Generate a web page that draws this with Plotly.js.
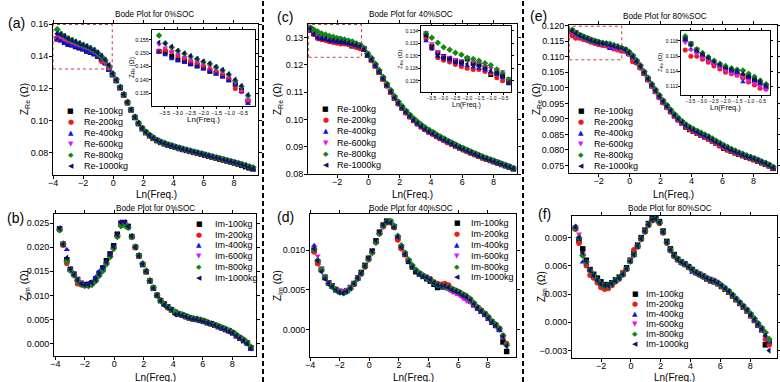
<!DOCTYPE html>
<html><head><meta charset="utf-8">
<script src="https://cdn.plot.ly/plotly-3.0.1.min.js"></script>
<style>html,body{margin:0;padding:0;background:#fff}#chart{width:780px;height:382px}</style>
</head><body><div id="chart"></div>
<script>
// ln of measurement frequency (shared by every series)
const lnFreq = [
-3.72,-3.48,-3.23,-2.99,-2.74,-2.50,-2.25,-2.01,-1.76,-1.52,
-1.27,-1.03,-0.78,-0.54,-0.29,-0.05,0.20,0.45,0.69,0.94,
1.18,1.43,1.67,1.92,2.16,2.41,2.65,2.90,3.14,3.39,
3.63,3.88,4.12,4.37,4.61,4.86,5.10,5.35,5.59,5.84,
6.08,6.33,6.57,6.82,7.06,7.31,7.55,7.80,8.04,8.29,
8.53,8.78,9.02,9.27];
const loads = ['100kg','200kg','400kg','600kg','800kg','1000kg'];
const socTitles = ['Bode Plot for 0%SOC','Bode Plot for 40%SOC','Bode Plot for 80%SOC'];

// (a) Z_Re, 0% SOC
const re0_100kg = [
0.1507,0.1503,0.1488,0.1475,0.1470,0.1460,0.1452,0.1445,0.1432,0.1425,
0.1415,0.1400,0.1385,0.1360,0.1320,0.1285,0.1248,0.1203,0.1158,0.1110,
0.1065,0.1018,0.0980,0.0948,0.0924,0.0904,0.0888,0.0874,0.0863,0.0854,
0.0846,0.0839,0.0832,0.0825,0.0819,0.0813,0.0807,0.0801,0.0795,0.0789,
0.0783,0.0777,0.0771,0.0765,0.0759,0.0753,0.0747,0.0741,0.0735,0.0728,
0.0720,0.0712,0.0704,0.0698];
const re0_200kg = [
0.1507,0.1512,0.1505,0.1490,0.1480,0.1470,0.1462,0.1452,0.1440,0.1430,
0.1420,0.1405,0.1368,0.1355,0.1320,0.1283,0.1246,0.1202,0.1157,0.1110,
0.1064,0.1019,0.0981,0.0949,0.0925,0.0905,0.0889,0.0875,0.0864,0.0855,
0.0847,0.0840,0.0833,0.0826,0.0820,0.0814,0.0808,0.0802,0.0796,0.0790,
0.0784,0.0778,0.0772,0.0766,0.0760,0.0754,0.0748,0.0742,0.0736,0.0730,
0.0724,0.0718,0.0711,0.0703];
const re0_400kg = [
0.1505,0.1493,0.1478,0.1473,0.1465,0.1458,0.1450,0.1440,0.1432,0.1422,
0.1410,0.1398,0.1380,0.1355,0.1310,0.1282,0.1245,0.1201,0.1157,0.1110,
0.1064,0.1019,0.0981,0.0949,0.0925,0.0905,0.0888,0.0874,0.0863,0.0854,
0.0846,0.0838,0.0831,0.0825,0.0819,0.0813,0.0807,0.0801,0.0795,0.0789,
0.0783,0.0777,0.0771,0.0765,0.0759,0.0753,0.0747,0.0741,0.0735,0.0729,
0.0723,0.0717,0.0710,0.0700];
const re0_600kg = [
0.1533,0.1520,0.1505,0.1495,0.1485,0.1475,0.1468,0.1460,0.1452,0.1440,
0.1428,0.1412,0.1390,0.1358,0.1325,0.1286,0.1249,0.1204,0.1159,0.1111,
0.1065,0.1020,0.0982,0.0950,0.0926,0.0906,0.0890,0.0876,0.0865,0.0856,
0.0848,0.0841,0.0834,0.0827,0.0821,0.0815,0.0809,0.0803,0.0797,0.0791,
0.0785,0.0779,0.0773,0.0767,0.0761,0.0755,0.0749,0.0743,0.0737,0.0731,
0.0725,0.0719,0.0713,0.0705];
const re0_800kg = [
0.1566,0.1537,0.1522,0.1508,0.1498,0.1488,0.1478,0.1468,0.1460,0.1448,
0.1436,0.1420,0.1398,0.1375,0.1340,0.1292,0.1253,0.1208,0.1162,0.1114,
0.1068,0.1022,0.0984,0.0952,0.0928,0.0908,0.0892,0.0878,0.0867,0.0858,
0.0850,0.0843,0.0836,0.0829,0.0823,0.0817,0.0811,0.0805,0.0799,0.0793,
0.0787,0.0781,0.0775,0.0769,0.0763,0.0757,0.0751,0.0745,0.0739,0.0733,
0.0727,0.0720,0.0713,0.0706];
const re0_1000kg = [
0.1541,0.1536,0.1525,0.1510,0.1500,0.1490,0.1480,0.1470,0.1462,0.1450,
0.1438,0.1422,0.1402,0.1378,0.1345,0.1290,0.1252,0.1206,0.1161,0.1113,
0.1067,0.1021,0.0983,0.0951,0.0927,0.0907,0.0891,0.0877,0.0866,0.0857,
0.0849,0.0842,0.0835,0.0828,0.0822,0.0816,0.0810,0.0804,0.0798,0.0792,
0.0786,0.0780,0.0774,0.0768,0.0762,0.0756,0.0750,0.0744,0.0738,0.0732,
0.0726,0.0719,0.0710,0.0700];

// (b) Z_Im, 0% SOC
const im0_100kg = [
0.0238,0.0206,0.0174,0.0154,0.0144,0.0133,0.0125,0.0122,0.0123,0.0126,
0.0134,0.0146,0.0157,0.0172,0.0186,0.0203,0.0227,0.0250,0.0251,0.0243,
0.0222,0.0200,0.0182,0.0164,0.0149,0.0130,0.0115,0.0100,0.0089,0.0082,
0.0076,0.0070,0.0065,0.0061,0.0059,0.0056,0.0053,0.0051,0.0050,0.0048,
0.0046,0.0043,0.0041,0.0038,0.0035,0.0032,0.0029,0.0026,0.0022,0.0016,
0.0011,0.0006,0.0001,-0.0009];
const im0_200kg = [
0.0236,0.0204,0.0166,0.0152,0.0142,0.0124,0.0122,0.0121,0.0121,0.0124,
0.0131,0.0142,0.0153,0.0167,0.0182,0.0199,0.0222,0.0246,0.0249,0.0241,
0.0221,0.0199,0.0181,0.0165,0.0150,0.0131,0.0116,0.0101,0.0090,0.0081,
0.0074,0.0069,0.0064,0.0062,0.0058,0.0055,0.0053,0.0052,0.0050,0.0049,
0.0047,0.0044,0.0040,0.0038,0.0036,0.0032,0.0029,0.0025,0.0022,0.0016,
0.0012,0.0007,0.0002,-0.0008];
const im0_400kg = [
0.0240,0.0208,0.0195,0.0155,0.0145,0.0131,0.0124,0.0123,0.0124,0.0128,
0.0138,0.0150,0.0158,0.0170,0.0185,0.0202,0.0226,0.0253,0.0252,0.0244,
0.0222,0.0201,0.0183,0.0166,0.0150,0.0130,0.0115,0.0100,0.0088,0.0080,
0.0075,0.0071,0.0066,0.0060,0.0058,0.0055,0.0053,0.0050,0.0049,0.0048,
0.0046,0.0042,0.0041,0.0039,0.0035,0.0031,0.0028,0.0025,0.0021,0.0015,
0.0011,0.0006,0.0001,-0.0012];
const im0_600kg = [
0.0237,0.0209,0.0170,0.0153,0.0144,0.0134,0.0127,0.0120,0.0118,0.0120,
0.0128,0.0140,0.0152,0.0166,0.0181,0.0198,0.0224,0.0247,0.0248,0.0240,
0.0221,0.0200,0.0182,0.0165,0.0150,0.0129,0.0114,0.0099,0.0088,0.0081,
0.0073,0.0069,0.0064,0.0061,0.0059,0.0055,0.0052,0.0051,0.0049,0.0047,
0.0044,0.0042,0.0040,0.0037,0.0034,0.0031,0.0028,0.0024,0.0021,0.0016,
0.0011,0.0006,0.0001,-0.0008];
const im0_800kg = [
0.0236,0.0207,0.0171,0.0152,0.0142,0.0131,0.0123,0.0120,0.0120,0.0123,
0.0130,0.0141,0.0151,0.0165,0.0180,0.0197,0.0222,0.0244,0.0246,0.0241,
0.0222,0.0201,0.0183,0.0166,0.0151,0.0131,0.0116,0.0100,0.0089,0.0081,
0.0075,0.0070,0.0066,0.0062,0.0060,0.0057,0.0054,0.0052,0.0051,0.0049,
0.0047,0.0044,0.0041,0.0039,0.0036,0.0033,0.0030,0.0027,0.0023,0.0018,
0.0013,0.0008,0.0002,-0.0007];
const im0_1000kg = [
0.0239,0.0206,0.0178,0.0154,0.0143,0.0132,0.0124,0.0122,0.0122,0.0126,
0.0133,0.0144,0.0156,0.0169,0.0184,0.0201,0.0226,0.0251,0.0252,0.0243,
0.0223,0.0200,0.0182,0.0165,0.0150,0.0130,0.0115,0.0100,0.0089,0.0080,
0.0075,0.0070,0.0060,0.0061,0.0058,0.0056,0.0053,0.0051,0.0050,0.0048,
0.0046,0.0043,0.0041,0.0038,0.0035,0.0032,0.0029,0.0025,0.0022,0.0016,
0.0011,0.0006,0.0000,-0.0010];

// (c) Z_Re, 40% SOC
const re40_100kg = [
0.1333,0.1315,0.1305,0.1299,0.1296,0.1292,0.1290,0.1295,0.1288,0.1286,
0.1281,0.1270,0.1272,0.1268,0.1258,0.1236,0.1219,0.1197,0.1174,0.1149,
0.1125,0.1101,0.1079,0.1059,0.1042,0.1026,0.1011,0.0997,0.0985,0.0974,
0.0964,0.0955,0.0950,0.0939,0.0931,0.0924,0.0917,0.0910,0.0903,0.0896,
0.0890,0.0884,0.0878,0.0872,0.0866,0.0860,0.0855,0.0850,0.0845,0.0840,
0.0835,0.0830,0.0825,0.0819];
const re40_200kg = [
0.1327,0.1312,0.1297,0.1293,0.1290,0.1286,0.1283,0.1280,0.1278,0.1278,
0.1275,0.1272,0.1265,0.1260,0.1257,0.1242,0.1216,0.1195,0.1172,0.1147,
0.1123,0.1099,0.1077,0.1057,0.1040,0.1024,0.1009,0.0995,0.0983,0.0972,
0.0962,0.0953,0.0945,0.0937,0.0929,0.0922,0.0915,0.0908,0.0901,0.0894,
0.0888,0.0882,0.0876,0.0870,0.0864,0.0859,0.0854,0.0849,0.0845,0.0840,
0.0835,0.0831,0.0826,0.0821];
const re40_400kg = [
0.1324,0.1312,0.1299,0.1295,0.1293,0.1289,0.1286,0.1284,0.1282,0.1280,
0.1277,0.1274,0.1270,0.1265,0.1255,0.1235,0.1218,0.1196,0.1173,0.1148,
0.1124,0.1100,0.1078,0.1058,0.1041,0.1025,0.1010,0.0996,0.0984,0.0973,
0.0963,0.0954,0.0946,0.0938,0.0930,0.0923,0.0916,0.0909,0.0902,0.0895,
0.0889,0.0883,0.0877,0.0871,0.0865,0.0860,0.0855,0.0850,0.0845,0.0839,
0.0834,0.0829,0.0824,0.0818];
const re40_600kg = [
0.1338,0.1320,0.1307,0.1300,0.1298,0.1294,0.1292,0.1297,0.1290,0.1288,
0.1283,0.1280,0.1279,0.1275,0.1264,0.1239,0.1222,0.1199,0.1176,0.1151,
0.1127,0.1103,0.1081,0.1061,0.1044,0.1028,0.1013,0.0999,0.0987,0.0976,
0.0966,0.0957,0.0949,0.0941,0.0933,0.0926,0.0919,0.0912,0.0905,0.0898,
0.0892,0.0886,0.0880,0.0874,0.0868,0.0862,0.0857,0.0852,0.0847,0.0842,
0.0837,0.0832,0.0827,0.0823];
const re40_800kg = [
0.1336,0.1329,0.1321,0.1314,0.1310,0.1305,0.1302,0.1297,0.1295,0.1292,
0.1288,0.1285,0.1278,0.1272,0.1262,0.1241,0.1225,0.1203,0.1180,0.1155,
0.1131,0.1107,0.1085,0.1065,0.1048,0.1032,0.1017,0.1003,0.0991,0.0980,
0.0970,0.0961,0.0953,0.0944,0.0936,0.0929,0.0921,0.0914,0.0907,0.0900,
0.0894,0.0888,0.0881,0.0875,0.0869,0.0863,0.0858,0.0853,0.0848,0.0843,
0.0837,0.0832,0.0827,0.0821];
const re40_1000kg = [
0.1333,0.1313,0.1300,0.1297,0.1296,0.1290,0.1290,0.1287,0.1285,0.1284,
0.1280,0.1276,0.1273,0.1268,0.1257,0.1237,0.1220,0.1198,0.1175,0.1150,
0.1126,0.1102,0.1080,0.1060,0.1043,0.1027,0.1012,0.0998,0.0986,0.0975,
0.0965,0.0956,0.0948,0.0940,0.0932,0.0925,0.0918,0.0911,0.0904,0.0897,
0.0891,0.0885,0.0879,0.0873,0.0867,0.0861,0.0856,0.0851,0.0846,0.0841,
0.0836,0.0831,0.0826,0.0820];

// (d) Z_Im, 40% SOC
const im40_100kg = [
0.0100,0.0085,0.0076,0.0066,0.0059,0.0055,0.0050,0.0048,0.0047,0.0049,
0.0053,0.0058,0.0065,0.0072,0.0081,0.0090,0.0099,0.0112,0.0123,0.0132,
0.0137,0.0136,0.0130,0.0116,0.0104,0.0095,0.0086,0.0079,0.0073,0.0070,
0.0067,0.0064,0.0061,0.0057,0.0053,0.0054,0.0056,0.0053,0.0050,0.0048,
0.0046,0.0043,0.0040,0.0036,0.0031,0.0027,0.0023,0.0019,0.0014,0.0009,
0.0005,0.0000,-0.0016,-0.0028];
const im40_200kg = [
0.0098,0.0083,0.0076,0.0065,0.0058,0.0054,0.0051,0.0047,0.0048,0.0049,
0.0052,0.0057,0.0064,0.0070,0.0079,0.0088,0.0097,0.0110,0.0121,0.0130,
0.0135,0.0135,0.0129,0.0113,0.0102,0.0094,0.0087,0.0080,0.0075,0.0071,
0.0068,0.0066,0.0064,0.0060,0.0058,0.0057,0.0058,0.0056,0.0051,0.0049,
0.0047,0.0044,0.0041,0.0038,0.0033,0.0028,0.0024,0.0020,0.0015,0.0010,
0.0006,0.0001,-0.0008,-0.0018];
const im40_400kg = [
0.0106,0.0088,0.0074,0.0064,0.0057,0.0053,0.0049,0.0047,0.0046,0.0048,
0.0052,0.0057,0.0064,0.0071,0.0080,0.0089,0.0098,0.0111,0.0122,0.0131,
0.0136,0.0137,0.0130,0.0117,0.0105,0.0096,0.0087,0.0080,0.0074,0.0070,
0.0068,0.0065,0.0062,0.0058,0.0055,0.0054,0.0052,0.0051,0.0049,0.0047,
0.0045,0.0042,0.0040,0.0036,0.0031,0.0026,0.0022,0.0018,0.0013,0.0008,
0.0004,-0.0001,-0.0010,-0.0019];
const im40_600kg = [
0.0103,0.0093,0.0077,0.0067,0.0060,0.0056,0.0051,0.0050,0.0049,0.0050,
0.0054,0.0059,0.0066,0.0071,0.0080,0.0089,0.0098,0.0111,0.0122,0.0131,
0.0136,0.0136,0.0130,0.0117,0.0105,0.0096,0.0088,0.0081,0.0075,0.0071,
0.0068,0.0065,0.0063,0.0059,0.0056,0.0055,0.0053,0.0050,0.0047,0.0045,
0.0043,0.0039,0.0036,0.0034,0.0030,0.0026,0.0022,0.0018,0.0013,0.0008,
0.0004,-0.0001,-0.0009,-0.0019];
const im40_800kg = [
0.0101,0.0087,0.0075,0.0066,0.0058,0.0054,0.0050,0.0047,0.0046,0.0048,
0.0052,0.0058,0.0064,0.0071,0.0080,0.0089,0.0097,0.0110,0.0121,0.0131,
0.0136,0.0137,0.0131,0.0118,0.0106,0.0097,0.0088,0.0081,0.0075,0.0071,
0.0068,0.0065,0.0063,0.0059,0.0056,0.0055,0.0054,0.0053,0.0051,0.0049,
0.0047,0.0044,0.0042,0.0038,0.0033,0.0028,0.0024,0.0020,0.0016,0.0010,
0.0006,0.0001,-0.0008,-0.0020];
const im40_1000kg = [
0.0102,0.0087,0.0073,0.0064,0.0058,0.0054,0.0050,0.0047,0.0046,0.0048,
0.0052,0.0058,0.0065,0.0071,0.0080,0.0090,0.0099,0.0112,0.0123,0.0132,
0.0136,0.0135,0.0129,0.0117,0.0104,0.0095,0.0086,0.0079,0.0073,0.0070,
0.0067,0.0066,0.0063,0.0059,0.0056,0.0055,0.0055,0.0053,0.0050,0.0048,
0.0046,0.0043,0.0041,0.0037,0.0032,0.0027,0.0023,0.0019,0.0014,0.0009,
0.0005,0.0000,-0.0009,-0.0021];

// (e) Z_Re, 80% SOC
const re80_100kg = [
0.1182,0.1176,0.1168,0.1162,0.1157,0.1152,0.1148,0.1144,0.1141,0.1139,
0.1134,0.1132,0.1128,0.1125,0.1121,0.1111,0.1099,0.1083,0.1067,0.1047,
0.1027,0.1007,0.0989,0.0971,0.0954,0.0939,0.0924,0.0910,0.0898,0.0887,
0.0874,0.0866,0.0860,0.0854,0.0848,0.0842,0.0836,0.0829,0.0822,0.0815,
0.0806,0.0801,0.0796,0.0791,0.0786,0.0782,0.0777,0.0773,0.0769,0.0764,
0.0759,0.0754,0.0749,0.0741];
const re80_200kg = [
0.1168,0.1160,0.1160,0.1156,0.1152,0.1147,0.1143,0.1139,0.1137,0.1135,
0.1131,0.1126,0.1122,0.1118,0.1117,0.1108,0.1085,0.1080,0.1064,0.1045,
0.1025,0.1005,0.0987,0.0969,0.0952,0.0937,0.0922,0.0908,0.0896,0.0885,
0.0875,0.0867,0.0860,0.0854,0.0848,0.0842,0.0835,0.0828,0.0821,0.0813,
0.0807,0.0801,0.0796,0.0791,0.0786,0.0782,0.0777,0.0773,0.0769,0.0764,
0.0759,0.0754,0.0749,0.0742];
const re80_400kg = [
0.1182,0.1169,0.1165,0.1160,0.1155,0.1150,0.1147,0.1143,0.1140,0.1138,
0.1126,0.1130,0.1127,0.1123,0.1119,0.1111,0.1099,0.1083,0.1067,0.1047,
0.1027,0.1007,0.0989,0.0971,0.0954,0.0939,0.0924,0.0910,0.0898,0.0887,
0.0877,0.0869,0.0862,0.0856,0.0850,0.0844,0.0838,0.0831,0.0824,0.0817,
0.0810,0.0804,0.0798,0.0793,0.0788,0.0783,0.0778,0.0774,0.0770,0.0765,
0.0760,0.0755,0.0750,0.0743];
const re80_600kg = [
0.1178,0.1168,0.1163,0.1158,0.1154,0.1150,0.1145,0.1141,0.1137,0.1135,
0.1133,0.1128,0.1124,0.1120,0.1116,0.1110,0.1098,0.1082,0.1066,0.1046,
0.1026,0.1006,0.0988,0.0970,0.0953,0.0938,0.0923,0.0909,0.0897,0.0886,
0.0876,0.0868,0.0861,0.0855,0.0849,0.0843,0.0837,0.0830,0.0823,0.0816,
0.0809,0.0803,0.0798,0.0793,0.0789,0.0785,0.0781,0.0777,0.0773,0.0768,
0.0763,0.0758,0.0752,0.0745];
const re80_800kg = [
0.1186,0.1176,0.1169,0.1164,0.1159,0.1154,0.1150,0.1147,0.1144,0.1142,
0.1141,0.1137,0.1133,0.1128,0.1123,0.1116,0.1104,0.1088,0.1072,0.1052,
0.1032,0.1012,0.0994,0.0976,0.0959,0.0944,0.0929,0.0915,0.0903,0.0892,
0.0882,0.0874,0.0867,0.0861,0.0855,0.0849,0.0843,0.0836,0.0829,0.0822,
0.0815,0.0809,0.0803,0.0797,0.0792,0.0787,0.0782,0.0777,0.0773,0.0768,
0.0763,0.0758,0.0752,0.0745];
const re80_1000kg = [
0.1183,0.1175,0.1168,0.1163,0.1158,0.1153,0.1149,0.1145,0.1143,0.1141,
0.1137,0.1134,0.1130,0.1127,0.1122,0.1113,0.1101,0.1085,0.1069,0.1049,
0.1029,0.1009,0.0991,0.0973,0.0956,0.0941,0.0926,0.0912,0.0900,0.0889,
0.0879,0.0871,0.0864,0.0858,0.0852,0.0846,0.0840,0.0833,0.0826,0.0819,
0.0812,0.0806,0.0800,0.0795,0.0790,0.0785,0.0780,0.0776,0.0772,0.0767,
0.0762,0.0757,0.0751,0.0743];

// (f) Z_Im, 80% SOC
const im80_100kg = [
0.0100,0.0087,0.0078,0.0066,0.0056,0.0051,0.0047,0.0043,0.0040,0.0040,
0.0042,0.0045,0.0048,0.0052,0.0058,0.0066,0.0073,0.0082,0.0090,0.0098,
0.0105,0.0110,0.0111,0.0107,0.0097,0.0086,0.0078,0.0072,0.0067,0.0064,
0.0062,0.0059,0.0056,0.0053,0.0051,0.0049,0.0046,0.0044,0.0043,0.0041,
0.0038,0.0035,0.0032,0.0028,0.0024,0.0020,0.0016,0.0012,0.0007,0.0002,
-0.0003,-0.0008,-0.0024,-0.0022];
const im80_200kg = [
0.0099,0.0084,0.0072,0.0060,0.0050,0.0047,0.0042,0.0037,0.0035,0.0036,
0.0039,0.0043,0.0046,0.0053,0.0056,0.0066,0.0077,0.0080,0.0088,0.0096,
0.0103,0.0108,0.0109,0.0105,0.0095,0.0084,0.0076,0.0070,0.0066,0.0063,
0.0061,0.0058,0.0055,0.0052,0.0050,0.0048,0.0046,0.0044,0.0043,0.0041,
0.0038,0.0035,0.0032,0.0028,0.0024,0.0020,0.0016,0.0012,0.0007,0.0002,
-0.0003,-0.0008,-0.0018,-0.0024];
const im80_400kg = [
0.0102,0.0089,0.0064,0.0063,0.0055,0.0049,0.0044,0.0040,0.0038,0.0039,
0.0042,0.0044,0.0047,0.0050,0.0056,0.0064,0.0071,0.0080,0.0088,0.0096,
0.0103,0.0109,0.0110,0.0106,0.0095,0.0085,0.0076,0.0070,0.0066,0.0063,
0.0061,0.0058,0.0053,0.0052,0.0050,0.0048,0.0046,0.0044,0.0043,0.0041,
0.0038,0.0035,0.0032,0.0028,0.0024,0.0020,0.0016,0.0012,0.0007,0.0002,
-0.0003,-0.0008,-0.0014,-0.0021];
const im80_600kg = [
0.0101,0.0094,0.0072,0.0064,0.0055,0.0050,0.0045,0.0041,0.0038,0.0038,
0.0040,0.0043,0.0046,0.0050,0.0057,0.0064,0.0071,0.0081,0.0089,0.0098,
0.0105,0.0110,0.0110,0.0106,0.0096,0.0085,0.0077,0.0071,0.0067,0.0064,
0.0062,0.0059,0.0056,0.0054,0.0052,0.0050,0.0048,0.0047,0.0045,0.0042,
0.0039,0.0036,0.0033,0.0029,0.0025,0.0021,0.0018,0.0014,0.0009,0.0003,
-0.0002,-0.0006,-0.0012,-0.0019];
const im80_800kg = [
0.0100,0.0090,0.0071,0.0064,0.0055,0.0050,0.0045,0.0041,0.0038,0.0039,
0.0041,0.0044,0.0047,0.0051,0.0057,0.0065,0.0072,0.0081,0.0089,0.0097,
0.0104,0.0109,0.0110,0.0106,0.0096,0.0085,0.0077,0.0071,0.0067,0.0064,
0.0062,0.0059,0.0056,0.0053,0.0051,0.0049,0.0047,0.0045,0.0044,0.0042,
0.0039,0.0036,0.0033,0.0029,0.0025,0.0021,0.0017,0.0013,0.0009,0.0004,
-0.0001,-0.0006,-0.0011,-0.0018];
const im80_1000kg = [
0.0101,0.0090,0.0074,0.0065,0.0055,0.0050,0.0045,0.0041,0.0039,0.0039,
0.0041,0.0044,0.0047,0.0051,0.0057,0.0065,0.0072,0.0081,0.0089,0.0097,
0.0104,0.0109,0.0110,0.0106,0.0096,0.0085,0.0077,0.0071,0.0067,0.0064,
0.0062,0.0059,0.0056,0.0053,0.0051,0.0049,0.0047,0.0045,0.0044,0.0042,
0.0039,0.0036,0.0033,0.0029,0.0025,0.0021,0.0017,0.0013,0.0008,0.0003,
-0.0002,-0.0007,-0.0014,-0.0030];

// ---------- styling ----------
const colors  = ['#000000','#f01818','#1010f0','#f010f0','#108a10','#10106e'];
const symbols = ['square','circle','triangle-up','triangle-down','diamond','triangle-left'];
const glyphs  = ['\u25A0','\u25CF','\u25B2','\u25BC','\u25C6','\u25C0'];
const FONT = 'Liberation Sans, Arial, sans-serif';
const W = 780, H = 382;
const px = v => v / W, py = v => 1 - v / H;
const INSET_N = 15; // low-frequency points repeated in the zoomed insets

const panels = [
  {data:[re0_100kg,re0_200kg,re0_400kg,re0_600kg,re0_800kg,re0_1000kg], pre:'Re-', xa:'x', ya:'y', ix:'x7', iy:'y7'},
  {data:[im0_100kg,im0_200kg,im0_400kg,im0_600kg,im0_800kg,im0_1000kg], pre:'Im-', xa:'x2', ya:'y2'},
  {data:[re40_100kg,re40_200kg,re40_400kg,re40_600kg,re40_800kg,re40_1000kg], pre:'Re-', xa:'x3', ya:'y3', ix:'x8', iy:'y8'},
  {data:[im40_100kg,im40_200kg,im40_400kg,im40_600kg,im40_800kg,im40_1000kg], pre:'Im-', xa:'x4', ya:'y4'},
  {data:[re80_100kg,re80_200kg,re80_400kg,re80_600kg,re80_800kg,re80_1000kg], pre:'Re-', xa:'x5', ya:'y5', ix:'x9', iy:'y9'},
  {data:[im80_100kg,im80_200kg,im80_400kg,im80_600kg,im80_800kg,im80_1000kg], pre:'Im-', xa:'x6', ya:'y6'}
];

const traces = [];
panels.forEach(p => {
  p.data.forEach((ys, i) => {
    traces.push({type:'scatter', mode:'markers', x:lnFreq, y:ys, xaxis:p.xa, yaxis:p.ya,
      name:p.pre+loads[i], showlegend:false, hoverinfo:'skip',
      marker:{symbol:symbols[i], color:colors[i], size:5.5, line:{width:0}}});
  });
  if (p.ix) p.data.forEach((ys, i) => {
    traces.push({type:'scatter', mode:'markers', x:lnFreq.slice(0,INSET_N), y:ys.slice(0,INSET_N),
      xaxis:p.ix, yaxis:p.iy, name:p.pre+loads[i], showlegend:false, hoverinfo:'skip',
      marker:{symbol:symbols[i], color:colors[i], size:5, line:{width:0}}});
  });
});

function ax(extra, small) {
  return Object.assign({
    autorange:false, showline:true, linecolor:'#000', linewidth:1, mirror:'ticks',
    ticks:'outside', ticklen: small ? 2 : 3, tickwidth:1, tickcolor:'#000',
    showgrid:false, zeroline:false, fixedrange:true, tickangle:0,
    tickfont:{family:FONT, size: small ? 5 : 9, color:'#000'}
  }, extra);
}
const XS = -4, YS = -1, IS = -1; // tick label standoffs (main x, main y, insets)

const layout = {
  width:W, height:H, margin:{l:0,r:0,t:0,b:0},
  paper_bgcolor:'#fff', plot_bgcolor:'rgba(0,0,0,0)', showlegend:false,
  font:{family:FONT, color:'#000'},
  // (a)
  xaxis: ax({domain:[px(53),px(258)], range:[-4,9.6], anchor:'y', dtick:2, tick0:0, ticklabelstandoff:XS}),
  yaxis: ax({domain:[py(175),py(24)], range:[0.066,0.16], anchor:'x', dtick:0.02, tick0:0, tickformat:'.2f', ticklabelstandoff:YS}),
  // (b)
  xaxis2: ax({domain:[px(54),px(256)], range:[-4.1,9.62], anchor:'y2', dtick:2, tick0:0, ticklabelstandoff:XS}),
  yaxis2: ax({domain:[py(356),py(214)], range:[-0.0026,0.0269], anchor:'x2', dtick:0.005, tick0:0, tickformat:'.3f', ticklabelstandoff:YS}),
  // (c)
  xaxis3: ax({domain:[px(308),px(517)], range:[-3.86,9.5], anchor:'y3', dtick:2, tick0:0, ticklabelstandoff:XS}),
  yaxis3: ax({domain:[py(174),py(24)], range:[0.08,0.135], anchor:'x3', dtick:0.01, tick0:0, tickformat:'.2f', ticklabelstandoff:YS}),
  // (d)
  xaxis4: ax({domain:[px(310),px(516)], range:[-4,9.9], anchor:'y4', dtick:2, tick0:0, ticklabelstandoff:XS}),
  yaxis4: ax({domain:[py(357),py(214)], range:[-0.0035,0.0146], anchor:'x4', dtick:0.005, tick0:0, tickformat:'.3f', ticklabelstandoff:YS}),
  // (e)
  xaxis5: ax({domain:[px(569),px(777)], range:[-3.92,9.52], anchor:'y5', dtick:2, tick0:0, ticklabelstandoff:XS}),
  yaxis5: ax({domain:[py(173),py(25)], range:[0.0726,0.1202], anchor:'x5', dtick:0.005, tick0:0, tickformat:'.3f', ticklabelstandoff:YS}),
  // (f)
  xaxis6: ax({domain:[px(572),px(777)], range:[-3.95,9.8], anchor:'y6', dtick:2, tick0:0, ticklabelstandoff:XS}),
  yaxis6: ax({domain:[py(358),py(216)], range:[-0.0038,0.0113], anchor:'x6', dtick:0.003, tick0:0, tickformat:'.3f', ticklabelstandoff:YS}),
  // insets
  xaxis7: ax({domain:[px(152),px(255)], range:[-3.99,-0.02], anchor:'y7', dtick:0.5, tick0:0, tickformat:'.1f', ticklabelstandoff:IS, tickfont:{family:FONT,size:5.5,color:'#000'}}, true),
  yaxis7: ax({domain:[py(106),py(30)], range:[0.1302,0.1587], anchor:'x7', dtick:0.005, tick0:0, tickformat:'.3f', ticklabelstandoff:IS, tickfont:{family:FONT,size:5.5,color:'#000'}}, true),
  xaxis8: ax({domain:[px(421),px(511)], range:[-3.93,-0.19], anchor:'y8', dtick:0.5, tick0:0, tickformat:'.1f', ticklabelstandoff:IS}, true),
  yaxis8: ax({domain:[py(92),py(26)], range:[0.1242,0.1348], anchor:'x8', dtick:0.002, tick0:0, tickformat:'.3f', ticklabelstandoff:IS}, true),
  xaxis9: ax({domain:[px(681),px(770)], range:[-3.90,-0.12], anchor:'y9', dtick:0.5, tick0:0, tickformat:'.1f', ticklabelstandoff:IS}, true),
  yaxis9: ax({domain:[py(95),py(31)], range:[0.1109,0.1193], anchor:'x9', dtick:0.002, tick0:0, tickformat:'.3f', ticklabelstandoff:IS}, true),
  shapes: [
    {type:'rect', xref:'x', yref:'y', x0:-4, x1:-0.07, y0:0.132, y1:0.1597, line:{color:'#c83c3c', width:1, dash:'dot'}},
    {type:'rect', xref:'x3', yref:'y3', x0:-3.82, x1:-0.44, y0:0.1228, y1:0.1348, line:{color:'#c83c3c', width:1, dash:'dot'}},
    {type:'rect', xref:'x5', yref:'y5', x0:-3.9, x1:-0.51, y0:0.109, y1:0.1198, line:{color:'#c83c3c', width:1, dash:'dot'}},
    {type:'line', xref:'paper', yref:'paper', x0:px(263), x1:px(263), y0:0, y1:1, line:{color:'#000', width:2, dash:'5px,3px'}},
    {type:'line', xref:'paper', yref:'paper', x0:px(523), x1:px(523), y0:0, y1:1, line:{color:'#000', width:2, dash:'5px,3px'}}
  ],
  annotations: []
};

const A = layout.annotations;
function note(text, x, y, size, anchor, angle) {
  A.push({text, xref:'paper', yref:'paper', x:px(x), y:py(y), xanchor:anchor||'center', yanchor:'middle',
    textangle: angle||0, showarrow:false, font:{family:FONT, size, color:'#000'}});
}
// panel letters
[['(a)',16.5,22.5],['(b)',15,218],['(c)',284.5,17.5],['(d)',285,217],['(e)',538,16],['(f)',544.5,214]]
  .forEach(l => note(l[0], l[1], l[2], 14));
// titles
[[socTitles[0],154,15],[socTitles[0],155,208],[socTitles[1],410.5,14.5],[socTitles[1],411,208],[socTitles[2],665,16],[socTitles[2],670,208]]
  .forEach(t => note(t[0], t[1], t[2], 8.2));
// axis titles of the main plots
[[156,194.5],[155,377.5],[412,194.5],[413,377.5],[673,194.5],[674,377.5]].forEach(t => note('Ln(Freq.)', t[0], t[1], 10));
[['Re',25,99],['Im',25,285],['Re',278,99],['Im',278,286],['Re',537,99],['Im',542,287]]
  .forEach(t => note('Z<sub>'+t[0]+'</sub> (\u03A9)', t[1], t[2], 10, 'center', -90));
// inset axis titles
[[203.5,119,8],[466,104.5,7],[725.5,107.5,7.5]].forEach(t => note('Ln(Freq.)', t[0], t[1], t[2]));
[[132,68,6.5],[401,59,6],[661,63,6]].forEach(t => note('Z<sub>Re</sub> (\u03A9)', t[0], t[1], t[2], 'center', -90));
// legends (glyph x, text x, first row y, row step)
const legendSpots = [[70.7,81.7,110.7,11],[199.3,213,224,10.7],[325.7,335,109,11.2],[457.3,469,223.3,10.8],[581,591.7,110.7,11],[635,643.5,294,10]];
legendSpots.forEach((s, k) => {
  loads.forEach((ld, i) => {
    A.push({text:glyphs[i], xref:'paper', yref:'paper', x:px(s[0]), y:py(s[2]+i*s[3]), xanchor:'center', yanchor:'middle',
      showarrow:false, font:{family:'DejaVu Sans', size:7, color:colors[i]}});
    note(panels[k].pre+ld, s[1], s[2]+i*s[3], 9, 'left');
  });
});

Plotly.newPlot('chart', traces, layout, {staticPlot:true, displayModeBar:false});
</script>
</body></html>
